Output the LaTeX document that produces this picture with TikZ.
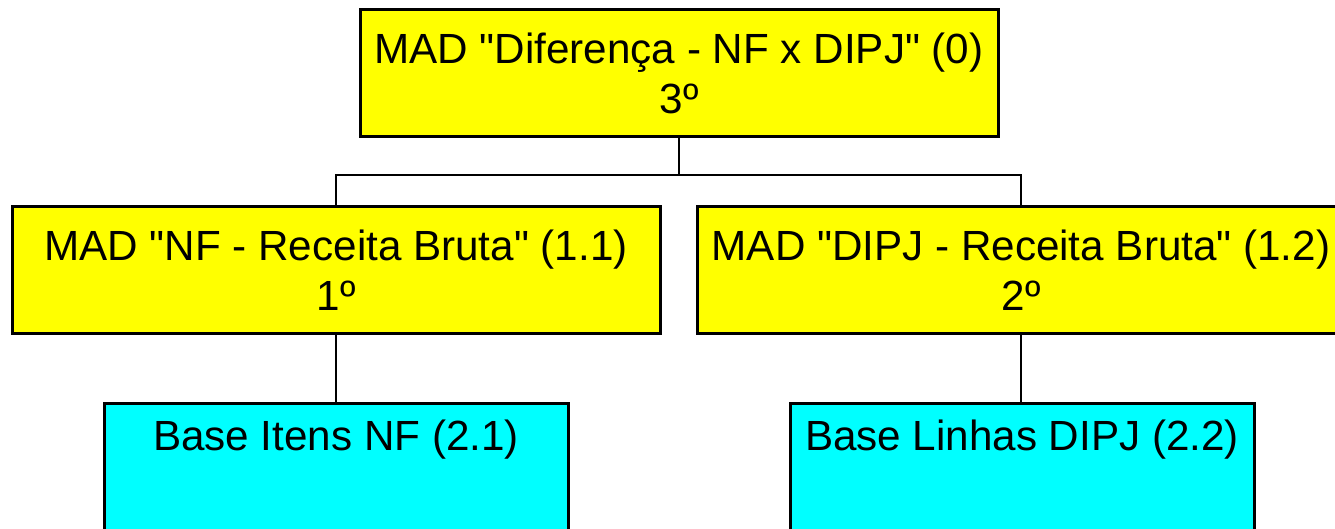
\documentclass[tikz,border=0pt]{standalone}
\usepackage{fontspec}
\setmainfont{Liberation Sans}
\usepackage{tikz}
\usetikzlibrary{positioning}
\definecolor{madyellow}{RGB}{255,255,0}
\definecolor{basecyan}{RGB}{0,255,255}
\newcommand{\qq}{\textquotedbl}

\begin{document}
\begin{tikzpicture}[
          x=0.5pt, y=-0.5pt,
          every node/.style={draw=black, line width=1.5pt, align=center,
            minimum height=63.5pt, inner sep=0pt,
            font=\fontsize{21.1}{25}\selectfont},
          madbox/.style={fill=madyellow, minimum width=324pt},
          basebox/.style={fill=basecyan, minimum width=232pt},
          link/.style={line width=1.2pt}
        ]
        \clip (0,0) rectangle (1335,529);
        \fill[white] (0,0) rectangle (1335,529);

        % Top node
        \node[madbox, minimum width=319pt] (top) at (679,73.5) {MAD \qq{}Diferença - NF x DIPJ\qq{} (0)\\3º};

        % Middle node set
        \node[madbox] (m1) at (336,270) {MAD \qq{}NF - Receita Bruta\qq{} (1.1)\\1º};
        \node[madbox] (m2) at (1021,270) {MAD \qq{}DIPJ - Receita Bruta\qq{} (1.2)\\2º};

        % Bottom node set
        \node[basebox] (b1) at (336,467.5) {Base Itens NF (2.1)\\\strut};
        \node[basebox] (b2) at (1022,467.5) {Base Linhas DIPJ (2.2)\\\strut};

        % Connectors
        \coordinate (j) at (679,175);
        \draw[link] (top.south) -- (j);
        \draw[link] (m1.north) |- (j) -| (m2.north);
        \draw[link] (m1.south) -- (b1.north);
        \draw[link] (m2.south) -- (m2.south |- b2.north);

      \end{tikzpicture}
\end{document}
